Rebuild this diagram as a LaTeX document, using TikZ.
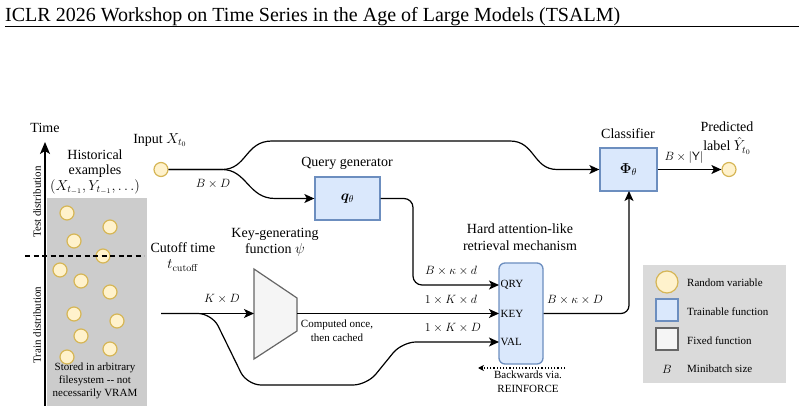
\documentclass[tikz,border=0pt]{standalone}
\usepackage{amsmath,bm}
\usepackage[no-math]{fontspec}
\setmainfont{Liberation Serif}
\usetikzlibrary{arrows.meta}
\definecolor{rvfill}{HTML}{FFF2CC}
\definecolor{rvdraw}{HTML}{D6B656}
\definecolor{trfill}{HTML}{DAE8FC}
\definecolor{trdraw}{HTML}{6C8EBF}
\definecolor{fxfill}{HTML}{F5F5F5}
\definecolor{fxdraw}{HTML}{666666}
\definecolor{histbg}{HTML}{CCCCCC}
\definecolor{legbg}{HTML}{DADADA}
\begin{document}
\begin{tikzpicture}[x=1pt,y=-1pt,
  rv/.style={circle,minimum size=14pt,inner sep=0pt,fill=rvfill,draw=rvdraw,line width=1.2pt},
  trainbox/.style={draw=trdraw,fill=trfill,line width=1.3pt,inner sep=0pt},
  wire/.style={line width=1.2pt},
  arr/.style={-{Stealth[length=10pt,width=9pt,inset=2.5pt]}},
  lbl/.style={font=\fontsize{14}{16}\selectfont,inner sep=0pt,align=center},
  sml/.style={font=\fontsize{11}{13}\selectfont,inner sep=0pt,align=center},
  mth/.style={font=\fontsize{13}{15}\selectfont,inner sep=0pt},
]
\useasboundingbox (0,0) rectangle (804,406);

% header
\node[anchor=base west,inner sep=0pt,font=\fontsize{20}{24}\selectfont] (hdr) at (5,21.5)
  {ICLR 2026 Workshop on Time Series in the Age of Large Models (TSALM)};
\draw[line width=1pt] (5,27) -- (799,27);

% historical region
\fill[histbg] (47,198) rectangle (147,406);
\draw[line width=1.5pt,-{Stealth[length=12pt,width=10pt,inset=3pt]}] (45,406) -- (45,142);
\node[lbl] (time) at (45,128) {Time};
\node[sml,rotate=90] (testd) at (37,202) {Test distribution};
\node[sml,rotate=90] (traind) at (37,325) {Train distribution};
\node[lbl,font=\fontsize{14}{15.5}\selectfont] (hist) at (95,172) {Historical\\examples\\$(X_{t_{-1}},Y_{t_{-1}},\ldots)$};
\foreach \i/\p in {1/{67,213},2/{110,227},3/{74,241},4/{103,256},5/{60,270},6/{81,281},7/{110,292},8/{74,314},9/{117,321},10/{81,336},11/{110,349},12/{67,357}}
  \node[rv] (ex\i) at (\p) {};
\draw[line width=1.2pt,dash pattern=on 5pt off 3.5pt] (25,256) -- (144,256);
\node[sml,font=\fontsize{11}{13}\selectfont] (stored) at (95,381) {Stored in arbitrary\\filesystem -{}- not\\necessarily VRAM};
\node[lbl] (cutoff) at (183,257) {Cutoff time\\$t_{\mathrm{cutoff}}$};

% input
\node[lbl] (inlbl) at (160,140) {Input $X_{t_0}$};
\node[rv] (in) at (161,169.5) {};
\node[mth] (bd) at (213,184) {$B\times D$};

% query generator
\node[lbl] (qlbl) at (347,163) {Query generator};
\node[trainbox,minimum width=65pt,minimum height=43pt,font=\fontsize{14}{16}\selectfont] (q) at (347.5,198.5) {$\bm{q}_{\theta}$};

% classifier
\node[lbl] (clbl) at (628,134) {Classifier};
\node[trainbox,minimum width=57pt,minimum height=43pt,font=\fontsize{14}{16}\selectfont] (c) at (628.5,169.5) {$\bm{\Phi}_{\theta}$};
\node[inner sep=0pt,font=\fontsize{14}{16}\selectfont,anchor=base] (plbl1) at (727,131.5) {Predicted};
\node[inner sep=0pt,font=\fontsize{14}{16}\selectfont,anchor=base] (plbl2) at (727,151) {label $\hat{Y}_{t_0}$};
\node[rv] (out) at (729,169.5) {};
\node[mth] (by) at (684,158) {$B\times|\mathsf{Y}|$};

% key-generating function
\node[lbl] (klbl) at (275,242) {Key-generating\\function $\psi$};
\draw[fill=fxfill,draw=fxdraw,line width=1.2pt] (254,269) -- (297,298) -- (297,331) -- (254,359) -- cycle;
\coordinate (kin) at (254,313.5);
\coordinate (kout) at (297,313.5);
\coordinate (kstart) at (161,313.5);
\node[mth] (kd) at (222,299) {$K\times D$};
\node[sml,font=\fontsize{11}{14}\selectfont] (cached) at (337,331) {Computed once,\\then cached};

% hard attention
\node[lbl,font=\fontsize{14}{17.5}\selectfont] (hlbl) at (520,237) {Hard attention-like\\retrieval mechanism};
\node[trainbox,rounded corners=6pt,minimum width=44pt,minimum height=101pt] (h) at (521,313.5) {};
\coordinate (hqry) at (499,285);
\coordinate (hkey) at (499,313.5);
\coordinate (hval) at (499,342);
\node[sml,anchor=west] (qry) at (500.5,285) {QRY};
\node[sml,anchor=west] (key) at (500.5,313.5) {KEY};
\node[sml,anchor=west] (val) at (500.5,342) {VAL};
\node[mth] (qd) at (451,271) {$B\times\kappa\times d$};
\node[mth] (kkd) at (451,300) {$1\times K\times d$};
\node[mth] (kkD) at (453,328) {$1\times K\times D$};
\node[mth] (okD) at (575,300) {$B\times\kappa\times D$};
\coordinate (bs) at (565,368);
\coordinate (be) at (478,368);
\draw[line width=1.2pt,dotted,-{Stealth[length=6pt,width=6pt]}] (bs) -- (be);
\node[sml,font=\fontsize{11}{14}\selectfont] (back) at (528,382) {Backwards via.\\REINFORCE};

% connectors
\draw[wire,arr] (in) -- (222,169.5) .. controls (247,169.5) and (245,141) .. (272,141)
  -- (510,141) .. controls (535,141) and (533,169.5) .. (557,169.5) -- (c.west);
\draw[wire,arr] (in) -- (222,169.5) .. controls (247,169.5) and (248,198.5) .. (275,198.5) -- (q.west);
\draw[wire,arr,rounded corners=9pt] (q.east) -- (413,198.5) -- (413,285) -- (hqry);
\draw[wire,arr] (kstart) -- (kin);
\draw[wire,arr] (kout) -- (hkey);
\draw[wire,arr,rounded corners=14pt] (kstart) -- (212,313.5) -- (247,385) -- (367,385) -- (402,342) -- (hval);
\draw[wire,arr,rounded corners=8pt] (h.east) -- (629,313.5) -- (629,191);
\draw[wire,arr] (c.east) -- (out);

% legend
\fill[legbg] (643,265) rectangle (786,383);
\node[rv,minimum size=22pt] (lrv) at (667,282) {};
\node[trainbox,minimum size=22pt] (ltr) at (667,310) {};
\node[draw=fxdraw,fill=fxfill,line width=1.3pt,minimum size=22pt,inner sep=0pt] (lfx) at (667,339) {};
\node[mth] (lb) at (667,369) {$B$};
\node[sml,anchor=west] (t1) at (687,283) {Random variable};
\node[sml,anchor=west] (t2) at (687,312) {Trainable function};
\node[sml,anchor=west] (t3) at (687,341) {Fixed function};
\node[sml,anchor=west] (t4) at (687,369) {Minibatch size};
\end{tikzpicture}
\end{document}
